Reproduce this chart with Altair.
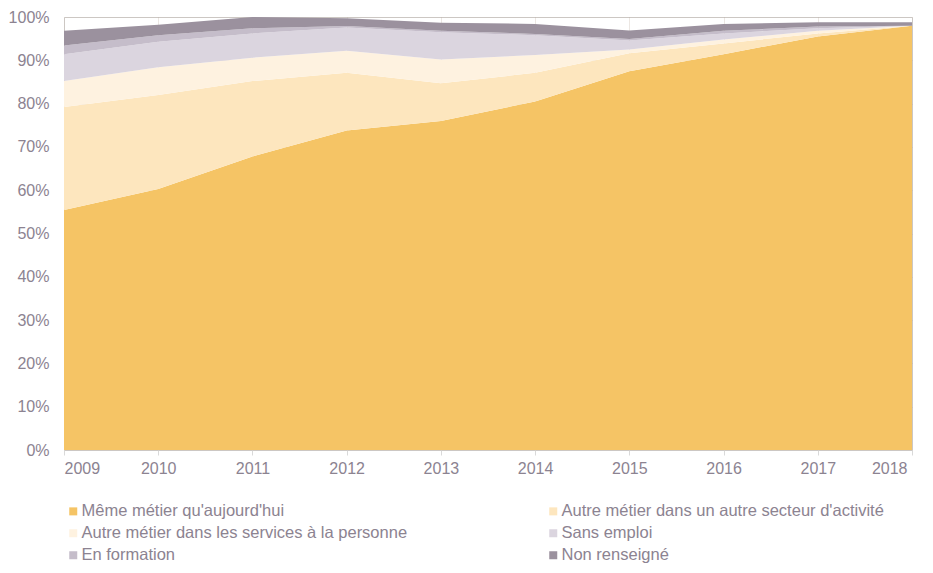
import altair as alt
import pandas as pd

years = [2009, 2010, 2011, 2012, 2013, 2014, 2015, 2016, 2017, 2018]
series_names = [
    "Même métier qu'aujourd'hui",
    "Autre métier dans un autre secteur d'activité",
    "Autre métier dans les services à la personne",
    "Sans emploi",
    "En formation",
    "Non renseigné",
]
meme = [55.4, 60.3, 67.8, 73.8, 76.0, 80.5, 87.5, 91.4, 95.5, 98.0]
autre_secteur = [23.8, 21.7, 17.4, 13.3, 8.7, 6.6, 4.1, 2.5, 0.7, 0.0]
services = [6.0, 6.4, 5.4, 5.1, 5.5, 4.1, 0.9, 0.9, 0.6, 0.0]
sans_emploi = [6.2, 5.9, 5.6, 5.4, 6.3, 4.6, 2.1, 1.4, 0.6, 0.0]
formation = [2.0, 1.5, 1.2, 0.3, 0.3, 0.3, 0.3, 0.6, 0.4, 0.0]
non_renseigne = [3.4, 2.4, 2.6, 1.8, 1.9, 2.3, 2.0, 1.6, 1.0, 0.8]
colors = ["#F5C465", "#FDE6BE", "#FEF2E0", "#DBD5DF", "#C5BDCA", "#9B919E"]
y_ticks = [0, 10, 20, 30, 40, 50, 60, 70, 80, 90, 100]

all_series = [meme, autre_secteur, services, sans_emploi, formation, non_renseigne]
rows = []
for idx, (name, vals) in enumerate(zip(series_names, all_series)):
    for yr, v in zip(years, vals):
        rows.append({"annee": yr, "serie": name, "valeur": v, "ordre": idx})
df = pd.DataFrame(rows)

text_color = "#8C8391"
font = "Liberation Sans"

chart = (
    alt.Chart(df)
    .mark_area(interpolate="linear", strokeWidth=0)
    .encode(
        x=alt.X(
            "annee:Q",
            scale=alt.Scale(domain=[2009, 2018], nice=False, zero=False),
            axis=alt.Axis(
                values=years,
                format="d",
                title=None,
                ticks=True,
                tickSize=5,
                tickColor="#D9D9D9",
                labelPadding=5,
                labelOffset=alt.ExprRef("datum.value == 2018 ? -5 : 0"),
                domain=False,
            ),
        ),
        y=alt.Y(
            "valeur:Q",
            stack="zero",
            scale=alt.Scale(domain=[0, 100], nice=False),
            axis=alt.Axis(
                values=y_ticks,
                labelExpr="datum.value + '%'",
                title=None,
                ticks=False,
                domain=False,
                labelPadding=15,
            ),
        ),
        color=alt.Color(
            "serie:N",
            scale=alt.Scale(domain=series_names, range=colors),
            sort=series_names,
            legend=alt.Legend(
                title=None,
                orient="none",
                direction="horizontal",
                legendX=1,
                legendY=486,
                columns=2,
                columnPadding=137,
                rowPadding=5,
                symbolType="square",
                symbolSize=64,
                symbolStrokeWidth=0,
                labelOffset=0,
                labelFontSize=16.5,
                labelFont=font,
                labelColor=text_color,
                labelLimit=500,
                padding=0,
            ),
        ),
        order=alt.Order("ordre:Q", sort="ascending"),
    )
    .properties(
        width=848,
        height=433,
        autosize=alt.AutoSizeParams(type="none"),
        padding={"left": 56, "top": 9, "right": 13, "bottom": 115},
    )
    .configure_view(stroke="#D9D9D9", strokeWidth=1)
    .configure_axis(
        zindex=1,
        grid=True,
        gridColor="#8A6A50",
        gridOpacity=0.16,
        gridWidth=1,
        labelFont=font,
        labelFontSize=16,
        labelColor=text_color,
    )
)

chart.save("out.html", embed_options={"renderer": "svg", "actions": False})
